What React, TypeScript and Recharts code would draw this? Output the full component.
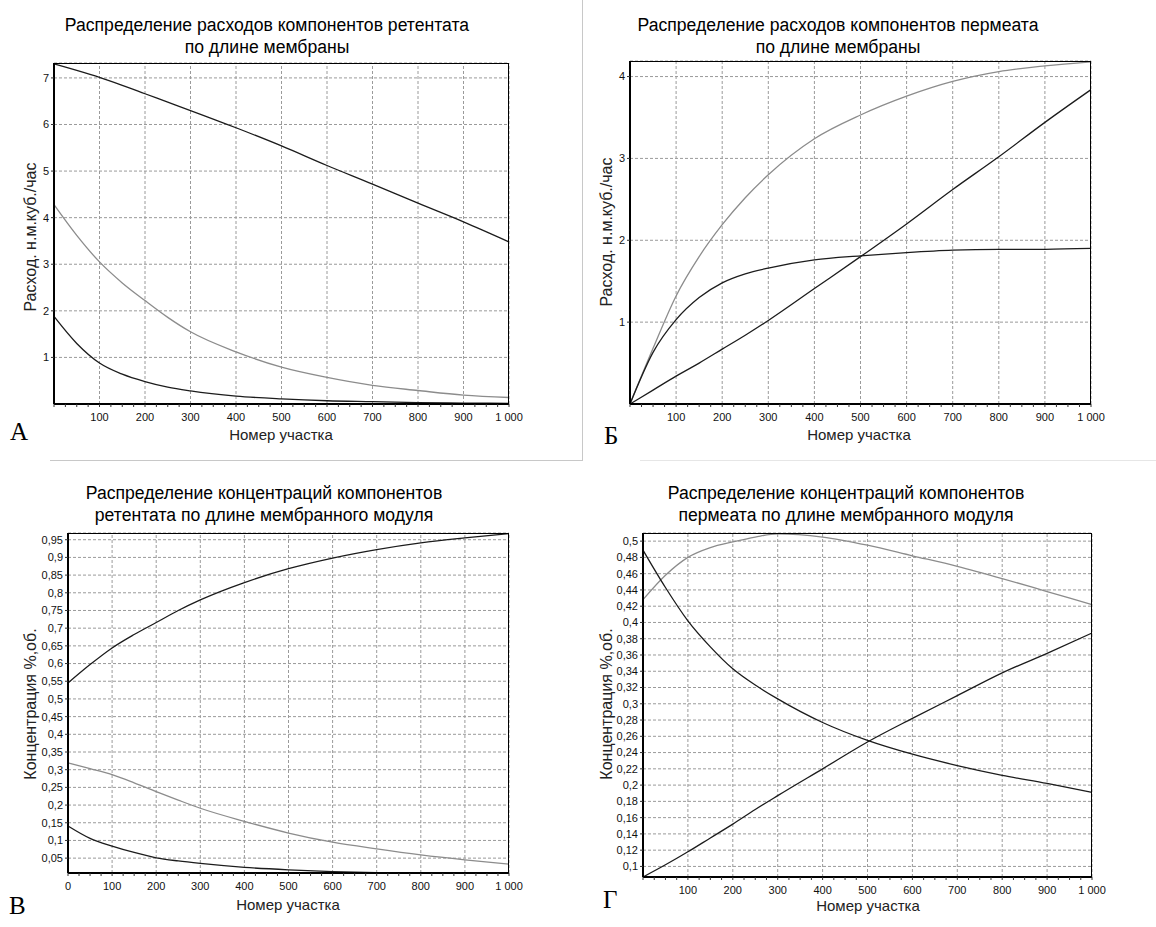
import {CartesianGrid, Line, LineChart, ReferenceLine, XAxis, YAxis} from 'recharts';

// section numbers along the membrane (shared x values)
const steps = [0, 50, 100, 150, 200, 250, 300, 400, 500, 600, 700, 800, 900, 1000];

// А: retentate component flows
const retFlowA = [7.3, 7.16, 7.01, 6.84, 6.66, 6.48, 6.3, 5.93, 5.54, 5.12, 4.72, 4.31, 3.91, 3.48];
const retFlowB = [4.28, 3.62, 3.05, 2.6, 2.22, 1.86, 1.55, 1.12, 0.79, 0.57, 0.4, 0.29, 0.19, 0.14];
const retFlowC = [1.88, 1.3, 0.88, 0.64, 0.48, 0.36, 0.28, 0.17, 0.11, 0.07, 0.05, 0.03, 0.02, 0.015];

// Б: permeate component flows
const permFlowA = [0, 0.68, 1.32, 1.8, 2.19, 2.52, 2.8, 3.24, 3.53, 3.76, 3.94, 4.06, 4.13, 4.18];
const permFlowB = [0, 0.63, 1.03, 1.3, 1.48, 1.59, 1.66, 1.76, 1.81, 1.85, 1.88, 1.89, 1.89, 1.9];
const permFlowC = [0, 0.17, 0.34, 0.5, 0.67, 0.84, 1.02, 1.41, 1.8, 2.2, 2.62, 3.02, 3.44, 3.84];

// В: retentate concentrations
const retConcA = [0.545, 0.597, 0.644, 0.682, 0.716, 0.75, 0.78, 0.829, 0.868, 0.898, 0.922, 0.941, 0.955, 0.967];
const retConcB = [0.319, 0.303, 0.286, 0.263, 0.238, 0.214, 0.191, 0.154, 0.121, 0.095, 0.076, 0.059, 0.045, 0.033];
const retConcC = [0.141, 0.106, 0.084, 0.066, 0.051, 0.042, 0.035, 0.024, 0.017, 0.012, 0.009, 0.008, 0.008, 0.008];

// Г: permeate concentrations
const permConcA = [0.428, 0.458, 0.48, 0.492, 0.499, 0.505, 0.509, 0.505, 0.495, 0.482, 0.469, 0.454, 0.438, 0.422];
const permConcB = [0.489, 0.443, 0.402, 0.37, 0.343, 0.323, 0.306, 0.277, 0.255, 0.238, 0.224, 0.212, 0.202, 0.191];
const permConcC = [0.087, 0.102, 0.118, 0.135, 0.152, 0.17, 0.187, 0.22, 0.253, 0.282, 0.31, 0.338, 0.362, 0.387];

const xMajor = [100, 200, 300, 400, 500, 600, 700, 800, 900, 1000];
const xMinor = Array.from({length: 41}, (_, i) => i * 25);
const flowTicksA = [1, 2, 3, 4, 5, 6, 7];
const flowTicksB = [1, 2, 3, 4];
const concTicksA = [0.05, 0.1, 0.15, 0.2, 0.25, 0.3, 0.35, 0.4, 0.45, 0.5, 0.55, 0.6, 0.65, 0.7, 0.75, 0.8, 0.85, 0.9, 0.95];
const concTicksB = [0.1, 0.12, 0.14, 0.16, 0.18, 0.2, 0.22, 0.24, 0.26, 0.28, 0.3, 0.32, 0.34, 0.36, 0.38, 0.4, 0.42, 0.44, 0.46, 0.48, 0.5];

const DARK = '#1c1c1c';
const GRAY = '#8c8c8c';
const SANS = '"Liberation Sans", Arial, sans-serif';
const SERIF = '"Liberation Serif", "Times New Roman", serif';

const fmtX = (v: number) => (v === 1000 ? '1 000' : String(v));
const fmtY = (v: number) => String(Math.round(v * 1000) / 1000).replace('.', ',');

function buildRows(series: number[][]) {
  return steps.map((x, i) => {
    const row: Record<string, number> = {x};
    series.forEach((s, k) => {
      row['s' + k] = s[i];
    });
    return row;
  });
}

interface PanelProps {
  plot: {x: number; y: number; w: number; h: number};
  yDomain: [number, number];
  yTicks: number[];
  xLabels: number[];
  series: number[][];
  colors: string[];
  title: string[];
  titleX: number;
  titleY: number;
  yLabel: string;
  yLabelX: number;
  yLabelY: number;
  xLabelX: number;
  xLabelY: number;
  letter: string;
  letterX: number;
  letterY: number;
}

function Panel(p: PanelProps) {
  const ML = 50;
  const MT = 10;
  const MR = 30;
  const MB = 30;
  const data = buildRows(p.series);
  const labelSet = new Set(p.xLabels);
  return (
    <>
      <div
        style={{
          position: 'absolute',
          left: p.titleX - 250,
          top: p.titleY,
          width: 500,
          textAlign: 'center',
          fontFamily: SANS,
          fontSize: 17.6,
          lineHeight: '22px',
          color: '#000',
        }}
      >
        {p.title.map((t) => (
          <div key={t}>{t}</div>
        ))}
      </div>
      <div style={{position: 'absolute', left: p.plot.x - ML, top: p.plot.y - MT}}>
        <LineChart
          width={p.plot.w + ML + MR}
          height={p.plot.h + MT + MB}
          data={data}
          margin={{top: MT, right: MR, bottom: 0, left: 0}}
        >
          <CartesianGrid vertical={false} stroke="#9a9a9a" strokeDasharray="3 2" />
          {xMajor.map((t) => (
            <ReferenceLine key={t} x={t} stroke="#9a9a9a" strokeDasharray="3 2" />
          ))}
          <XAxis
            dataKey="x"
            type="number"
            domain={[0, 1000]}
            ticks={xMinor}
            interval={0}
            height={MB}
            tickFormatter={(v: number) => (labelSet.has(v) ? fmtX(v) : '')}
            tickSize={3}
            tickMargin={6}
            axisLine={{stroke: '#000', strokeWidth: 2}}
            tickLine={{stroke: '#333'}}
            tick={{fill: '#111', fontSize: 11, fontFamily: SANS}}
          />
          <YAxis
            type="number"
            domain={p.yDomain}
            allowDataOverflow
            ticks={p.yTicks}
            interval={0}
            width={ML}
            tickFormatter={fmtY}
            tickSize={3}
            tickMargin={2}
            axisLine={{stroke: '#000', strokeWidth: 2}}
            tickLine={{stroke: '#333'}}
            tick={{fill: '#111', fontSize: 11, fontFamily: SANS}}
          />
          {p.series.map((_, k) => (
            <Line
              key={k}
              type="monotone"
              dataKey={'s' + k}
              stroke={p.colors[k]}
              strokeWidth={1.3}
              dot={false}
              activeDot={false}
              isAnimationActive={false}
            />
          ))}
        </LineChart>
      </div>
      <div
        style={{
          position: 'absolute',
          left: p.plot.x,
          top: p.plot.y,
          width: p.plot.w,
          height: p.plot.h,
          borderTop: '1px solid #000',
          borderRight: '1px solid #000',
          boxSizing: 'border-box',
          pointerEvents: 'none',
        }}
      />
      <div
        style={{
          position: 'absolute',
          left: p.yLabelX - 150,
          top: p.yLabelY - 10,
          width: 300,
          height: 20,
          lineHeight: '20px',
          textAlign: 'center',
          transform: 'rotate(-90deg)',
          fontFamily: SANS,
          fontSize: 16,
          color: '#222',
          whiteSpace: 'nowrap',
        }}
      >
        {p.yLabel}
      </div>
      <div
        style={{
          position: 'absolute',
          left: p.xLabelX - 150,
          top: p.xLabelY - 10,
          width: 300,
          lineHeight: '20px',
          textAlign: 'center',
          fontFamily: SANS,
          fontSize: 15,
          color: '#222',
        }}
      >
        Номер участка
      </div>
      <div
        style={{
          position: 'absolute',
          left: p.letterX,
          top: p.letterY - 15,
          lineHeight: '30px',
          fontFamily: SERIF,
          fontSize: 25,
          color: '#000',
        }}
      >
        {p.letter}
      </div>
    </>
  );
}

export default function App() {
  return (
    <div
      style={{
        position: 'absolute',
        left: 0,
        top: 0,
        width: 1156,
        height: 927,
        background: '#fff',
        overflow: 'hidden',
      }}
    >
      <div style={{position: 'absolute', left: 50, top: 460, width: 533, height: 1, background: '#c8c8c8'}} />
      <div style={{position: 'absolute', left: 582, top: 0, width: 1, height: 461, background: '#c8c8c8'}} />
      <div style={{position: 'absolute', left: 640, top: 460, width: 516, height: 1, background: '#e6e6e6'}} />

      <Panel
        plot={{x: 54, y: 63, w: 455, h: 341}}
        yDomain={[0, 7.32]}
        yTicks={flowTicksA}
        xLabels={xMajor}
        series={[retFlowA, retFlowB, retFlowC]}
        colors={[DARK, GRAY, DARK]}
        title={['Распределение расходов компонентов ретентата', 'по длине мембраны']}
        titleX={267}
        titleY={14}
        yLabel="Расход. н.м.куб./час"
        yLabelX={31}
        yLabelY={237}
        xLabelX={281}
        xLabelY={435}
        letter="А"
        letterX={10}
        letterY={432}
      />
      <Panel
        plot={{x: 630, y: 61, w: 461, h: 343}}
        yDomain={[0, 4.19]}
        yTicks={flowTicksB}
        xLabels={xMajor}
        series={[permFlowA, permFlowB, permFlowC]}
        colors={[GRAY, DARK, DARK]}
        title={['Распределение расходов компонентов пермеата', 'по длине мембраны']}
        titleX={838}
        titleY={14}
        yLabel="Расход. н.м.куб./час"
        yLabelX={607}
        yLabelY={232}
        xLabelX={859}
        xLabelY={435}
        letter="Б"
        letterX={604}
        letterY={436}
      />
      <Panel
        plot={{x: 68, y: 533, w: 441, h: 340}}
        yDomain={[0.008, 0.969]}
        yTicks={concTicksA}
        xLabels={[0, ...xMajor]}
        series={[retConcA, retConcB, retConcC]}
        colors={[DARK, GRAY, DARK]}
        title={['Распределение концентраций компонентов', 'ретентата по длине мембранного модуля']}
        titleX={264}
        titleY={482}
        yLabel="Концентрация %,об."
        yLabelX={31}
        yLabelY={704}
        xLabelX={288}
        xLabelY={905}
        letter="В"
        letterX={9}
        letterY={906}
      />
      <Panel
        plot={{x: 643, y: 533, w: 449, h: 344}}
        yDomain={[0.087, 0.51]}
        yTicks={concTicksB}
        xLabels={xMajor}
        series={[permConcA, permConcB, permConcC]}
        colors={[GRAY, DARK, DARK]}
        title={['Распределение концентраций компонентов', 'пермеата по длине мембранного модуля']}
        titleX={846}
        titleY={482}
        yLabel="Концентрация %,об."
        yLabelX={607}
        yLabelY={704}
        xLabelX={868}
        xLabelY={906}
        letter="Г"
        letterX={603}
        letterY={900}
      />
    </div>
  );
}
